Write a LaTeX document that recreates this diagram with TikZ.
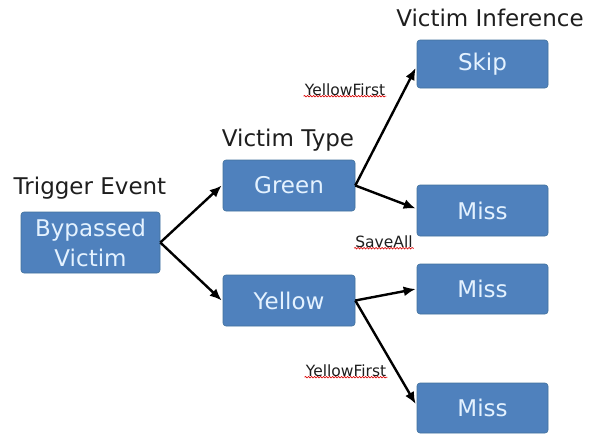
\documentclass[tikz,border=0pt]{standalone}
\usepackage{fontspec}
\setmainfont{DejaVu Sans}
\usetikzlibrary{arrows.meta,decorations.pathmorphing}
\definecolor{boxblue}{RGB}{79,129,189}
\definecolor{boxedge}{RGB}{65,113,156}
\definecolor{boxtext}{RGB}{228,242,255}
\definecolor{ink}{RGB}{30,30,30}
\tikzset{
  stagebox/.style={draw=boxedge, line width=0.6pt, fill=boxblue, rounded corners=3pt,
    text=boxtext, align=center, inner sep=0pt,
    font=\fontsize{23}{30}\selectfont},
  heading/.style={text=ink, inner sep=0pt, font=\fontsize{23}{27}\selectfont},
  condlabel/.style={text=ink, inner sep=1pt, font=\fontsize{15.5}{17}\selectfont},
  squiggle/.style={draw=red!85!black, line width=0.6pt,
    decorate, decoration={snake, amplitude=0.8pt, segment length=3pt}},
  flow/.style={draw=black, line width=2.4pt,
    -{Latex[length=12pt,width=10pt]}},
}
\begin{document}
\begin{tikzpicture}[x=1pt,y=-1pt]
  \useasboundingbox (0,0) rectangle (598,434);

  % column headings
  \node[heading] (hTrigger) at (90,188) {Trigger Event};
  \node[heading] (hType) at (288,140) {Victim Type};
  \node[heading] (hInfer) at (490,18) {Victim Inference};

  % stage boxes
  \node[stagebox, minimum width=139pt, minimum height=61pt] (bypassed) at (90.5,242.5) {Bypassed\\Victim};
  \node[stagebox, minimum width=132pt, minimum height=51pt] (green) at (289,185.5) {Green};
  \node[stagebox, minimum width=132pt, minimum height=51pt] (yellow) at (289,300.5) {Yellow};
  \node[stagebox, minimum width=131pt, minimum height=48pt] (skip) at (482.5,64) {Skip};
  \node[stagebox, minimum width=131pt, minimum height=51pt] (missA) at (482.5,210.5) {Miss};
  \node[stagebox, minimum width=131pt, minimum height=50pt] (missB) at (482.5,289) {Miss};
  \node[stagebox, minimum width=131pt, minimum height=50pt] (missC) at (482.5,408) {Miss};

  % branching connectors
  \draw[flow] (bypassed.east) -- ([xshift=-1pt]green.west);
  \draw[flow] (bypassed.east) -- ([xshift=-1pt]yellow.west);
  \draw[flow] (green.east) -- ([xshift=-1pt,yshift=-4pt]skip.west);
  \draw[flow] (green.east) -- ([xshift=-1pt,yshift=2pt]missA.west);
  \draw[flow] (yellow.east) -- ([xshift=-1pt]missB.west);
  \draw[flow] (yellow.east) -- ([xshift=-1pt,yshift=4pt]missC.west);

  % condition labels
  \node[condlabel] (lYellowA) at (345,90) {YellowFirst};
  \node[condlabel] (lSave) at (384,242) {SaveAll};
  \node[condlabel] (lYellowB) at (346,371) {YellowFirst};
  \draw[squiggle] ([yshift=1pt]lYellowA.south west) -- ([yshift=1pt]lYellowA.south east);
  \draw[squiggle] ([yshift=1pt]lSave.south west) -- ([yshift=1pt]lSave.south east);
  \draw[squiggle] ([yshift=1pt]lYellowB.south west) -- ([yshift=1pt]lYellowB.south east);
\end{tikzpicture}
\end{document}
